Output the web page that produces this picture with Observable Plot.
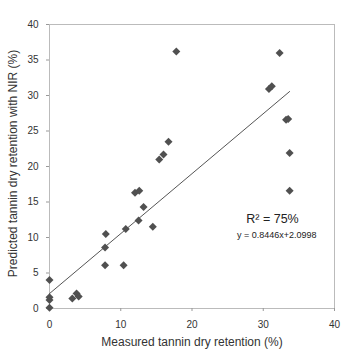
<!DOCTYPE html>
<html>
<head>
<meta charset="utf-8">
<script src="https://cdn.jsdelivr.net/npm/d3@7"></script>
<script src="https://cdn.jsdelivr.net/npm/@observablehq/plot@0.6"></script>
<style>
  html, body { margin: 0; padding: 0; background: #fff; }
</style>
</head>
<body>
<div id="chart"></div>
<script>
// Measured vs predicted tannin dry retention (%)
const measured  = [0, 0, 0, 0, 3.2, 3.8, 4.1, 7.8, 7.8, 7.9, 10.4, 10.7, 12.0, 12.6, 12.5, 13.2, 14.5, 15.4, 16.0, 16.7, 17.8, 30.8, 31.2, 32.3, 33.2, 33.5, 33.7, 33.7];
const predicted = [0.1, 1.2, 1.6, 4.0, 1.4, 2.1, 1.7, 6.1, 8.6, 10.5, 6.1, 11.2, 16.3, 16.6, 12.4, 14.3, 11.5, 21.0, 21.7, 23.5, 36.2, 30.9, 31.3, 36.0, 26.6, 26.7, 21.9, 16.6];

// Linear fit
const slope = 0.8446;
const intercept = 2.0998;

// Axis ticks and labels
const xTicks = [0, 10, 20, 30, 40];
const yTicks = [0, 5, 10, 15, 20, 25, 30, 35, 40];
const xLabel = "Measured tannin dry retention (%)";
const yLabel = "Predicted tannin dry retention with NIR (%)";

// Annotations (data coordinates)
const annText = ["R\u00B2 = 75%", "y = 0.8446x+2.0998"];
const annX = [31.3, 31.9];
const annY = [12.0, 10.0];

const points = measured.map((m, i) => ({x: m, y: predicted[i]}));
const fitX = d3.extent(measured);
const fit = fitX.map(x => ({x, y: slope * x + intercept}));
const ann = annText.map((t, i) => ({t, x: annX[i], y: annY[i]}));

const chart = Plot.plot({
  width: 361,
  height: 361,
  marginLeft: 49,
  marginRight: 27,
  marginTop: 24,
  marginBottom: 53,
  style: {fontFamily: "'Liberation Sans', Arial, sans-serif", background: "#fff", color: "#333"},
  x: {domain: [0, 40]},
  y: {domain: [0, 40]},
  marks: [
    Plot.frame({stroke: "#bbb"}),
    Plot.axisX({ticks: xTicks, tickSize: 3, tickPadding: 9, stroke: "#999", fill: "#333", fontSize: 10, label: null}),
    Plot.axisY({ticks: yTicks, tickSize: 3, tickPadding: 8, stroke: "#999", fill: "#333", fontSize: 10, label: null}),
    Plot.text([xLabel], {text: d => d, frameAnchor: "bottom", dy: 34, fontSize: 12, fill: "#333", lineAnchor: "middle", textAnchor: "middle"}),
    Plot.text([yLabel], {text: d => d, frameAnchor: "left", dx: -36, dy: -3, rotate: -90, fontSize: 12, fill: "#333", lineAnchor: "middle", textAnchor: "middle"}),
    Plot.line(fit, {x: "x", y: "y", stroke: "#555", strokeWidth: 1}),
    Plot.dot(points, {x: "x", y: "y", symbol: "diamond2", r: 3.6, fill: "#505050", stroke: "none"}),
    Plot.text(ann.slice(0, 1), {x: "x", y: "y", text: "t", fontSize: 12.5, fill: "#222", lineAnchor: "bottom"}),
    Plot.text(ann.slice(1), {x: "x", y: "y", text: "t", fontSize: 9, fill: "#222", lineAnchor: "bottom"})
  ]
});
document.getElementById("chart").appendChild(chart);
</script>
</body>
</html>
